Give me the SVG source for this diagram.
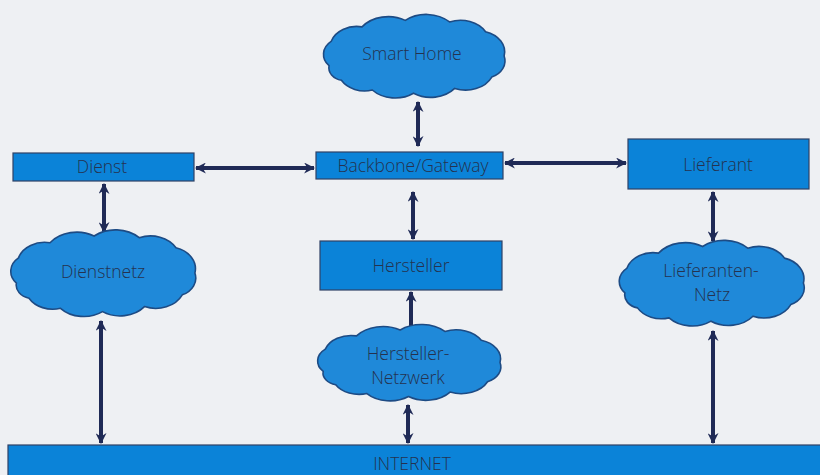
<svg xmlns="http://www.w3.org/2000/svg" width="820" height="475" viewBox="0 0 820 475">
<defs>
<style>
.bg{fill:#eef0f3}
.box{fill:#0b83d8;stroke:#2f4266;stroke-width:1.2}
.cloud{fill:#1f89d9;stroke:#1d4b84;stroke-width:1.6}
.lbl{font-family:"Open Sans","Liberation Sans",sans-serif;font-size:17.5px;font-weight:300;fill:#24324f;text-anchor:middle}
.con{stroke:#1f2a56;stroke-width:4;fill:none}
</style>
<marker id="ah" viewBox="0 0 10 10" refX="9" refY="5" markerWidth="11" markerHeight="11" markerUnits="userSpaceOnUse" orient="auto-start-reverse">
<path d="M0,0 L10,5 L0,10 L3,5 Z" fill="#1f2a56"/>
</marker>
<path id="cl" d="M-82,12 A21,21 0 0 1 -80,-18 A26,26 0 0 1 -50,-36 A32,32 0 0 1 -8,-44 A32,32 0 0 1 35,-42 A28,28 0 0 1 70,-30 A26,26 0 0 1 88,0 A22,22 0 0 1 76,26 A28,28 0 0 1 40,40 A30,30 0 0 1 0,46 A30,30 0 0 1 -40,42 A26,26 0 0 1 -70,30 A16,16 0 0 1 -82,12 Z" vector-effect="non-scaling-stroke"/>
</defs>
<rect class="bg" x="0" y="0" width="820" height="475"/>

<g id="connectors">
<line class="con" x1="418" y1="102" x2="418" y2="146" marker-start="url(#ah)" marker-end="url(#ah)"/>
<line class="con" x1="196" y1="168" x2="314" y2="168" marker-start="url(#ah)" marker-end="url(#ah)"/>
<line class="con" x1="505" y1="163" x2="626" y2="163" marker-start="url(#ah)" marker-end="url(#ah)"/>
<line class="con" x1="413" y1="192" x2="413" y2="239" marker-start="url(#ah)" marker-end="url(#ah)"/>
<line class="con" x1="104" y1="184" x2="104" y2="232" marker-start="url(#ah)" marker-end="url(#ah)"/>
<line class="con" x1="713" y1="192" x2="713" y2="241" marker-start="url(#ah)" marker-end="url(#ah)"/>
<line class="con" x1="411" y1="330" x2="411" y2="292" marker-end="url(#ah)"/>
<line class="con" x1="408" y1="405" x2="408" y2="443" marker-start="url(#ah)" marker-end="url(#ah)"/>
<line class="con" x1="101" y1="321" x2="101" y2="443" marker-start="url(#ah)" marker-end="url(#ah)"/>
<line class="con" x1="713" y1="331" x2="713" y2="443" marker-start="url(#ah)" marker-end="url(#ah)"/>
</g>

<g id="smart-home">
<use href="#cl" class="cloud" transform="translate(413.5,56) scale(1.03,0.81)"/>
<text class="lbl" x="412" y="60">Smart Home</text>
</g>

<g id="dienst">
<rect class="box" x="13" y="153" width="181" height="28"/>
<text class="lbl" x="102" y="173">Dienst</text>
</g>

<g id="backbone">
<rect class="box" x="316" y="152" width="187" height="27"/>
<text class="lbl" x="413" y="172">Backbone/Gateway</text>
</g>

<g id="lieferant">
<rect class="box" x="628" y="139" width="181" height="50"/>
<text class="lbl" x="718" y="171">Lieferant</text>
</g>

<g id="hersteller">
<rect class="box" x="320" y="241" width="182" height="49"/>
<text class="lbl" x="411" y="272">Hersteller</text>
</g>

<g id="dienstnetz">
<use href="#cl" class="cloud" transform="translate(102.5,273) scale(1.05,0.84)"/>
<text class="lbl" x="103" y="278">Dienstnetz</text>
</g>

<g id="lieferanten-netz">
<use href="#cl" class="cloud" transform="translate(711,283) scale(1.05,0.83)"/>
<text class="lbl" x="711" y="277">Lieferanten-</text>
<text class="lbl" x="712" y="301">Netz</text>
</g>

<g id="hersteller-netzwerk">
<use href="#cl" class="cloud" transform="translate(408.5,362.5) scale(1.04,0.74)"/>
<text class="lbl" x="408" y="360">Hersteller-</text>
<text class="lbl" x="408" y="384">Netzwerk</text>
</g>

<g id="internet">
<rect class="box" x="8" y="445" width="815" height="35"/>
<text class="lbl" x="412" y="470">INTERNET</text>
</g>
</svg>
